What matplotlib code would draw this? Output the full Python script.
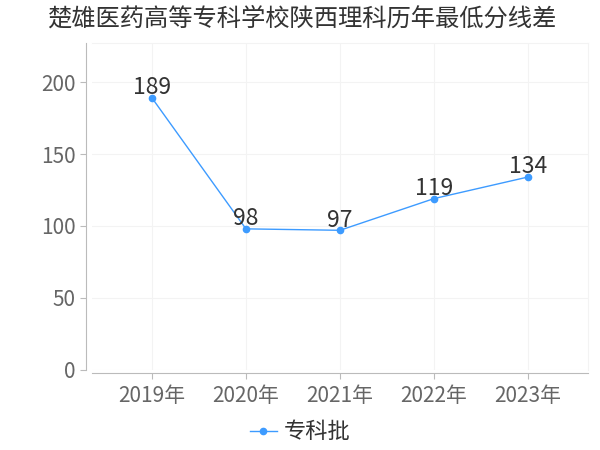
import matplotlib.pyplot as plt

plt.rcParams['font.family'] = ['Noto Sans CJK SC', 'DejaVu Sans']

years = ['2019年', '2020年', '2021年', '2022年', '2023年']
scores = [189, 98, 97, 119, 134]
series_name = '专科批'
title = '楚雄医药高等专科学校陕西理科历年最低分线差'

line_color = '#3d9bff'

fig = plt.figure(figsize=(6, 4.5), dpi=100)
ax = fig.add_axes([0.153, 0.178, 0.827, 0.726])

x = list(range(len(years)))
ax.plot(x, scores, color=line_color, lw=1, marker='o', ms=4.5, label=series_name, zorder=3)
for xi, v in zip(x, scores):
    ax.annotate(str(v), (xi, v), xytext=(0, -1), textcoords='offset points',
                ha='center', va='bottom', fontsize=16.5, color='#333333')

ax.set_xlim(-0.64, 4.64)
ax.set_ylim(0, 227)
ax.set_xticks(x)
ax.set_xticklabels(years)
ax.set_yticks([0, 50, 100, 150, 200])
ax.tick_params(axis='both', labelsize=15, colors='#bbbbbb', labelcolor='#666666', length=4, width=0.8)
ax.tick_params(axis='x', pad=5)
ax.grid(True, color='#f3f3f3', lw=0.8)
ax.set_axisbelow(True)

for s in ['top', 'right']:
    ax.spines[s].set_color('#f3f3f3')
ax.spines['left'].set_color('#bbbbbb')
ax.spines['bottom'].set_color('#bbbbbb')
ax.spines['left'].set_position(('outward', 4))
ax.spines['bottom'].set_position(('outward', 2))

fig.text(0.078, 0.958, title, fontsize=17.5, color='#333333', ha='left', va='center')

fig.legend(loc='center', bbox_to_anchor=(0.5, 0.04), frameon=False, fontsize=16,
           handlelength=1.2, handletextpad=0.3, labelcolor='#333333')

fig.savefig('out.png', dpi=100)
